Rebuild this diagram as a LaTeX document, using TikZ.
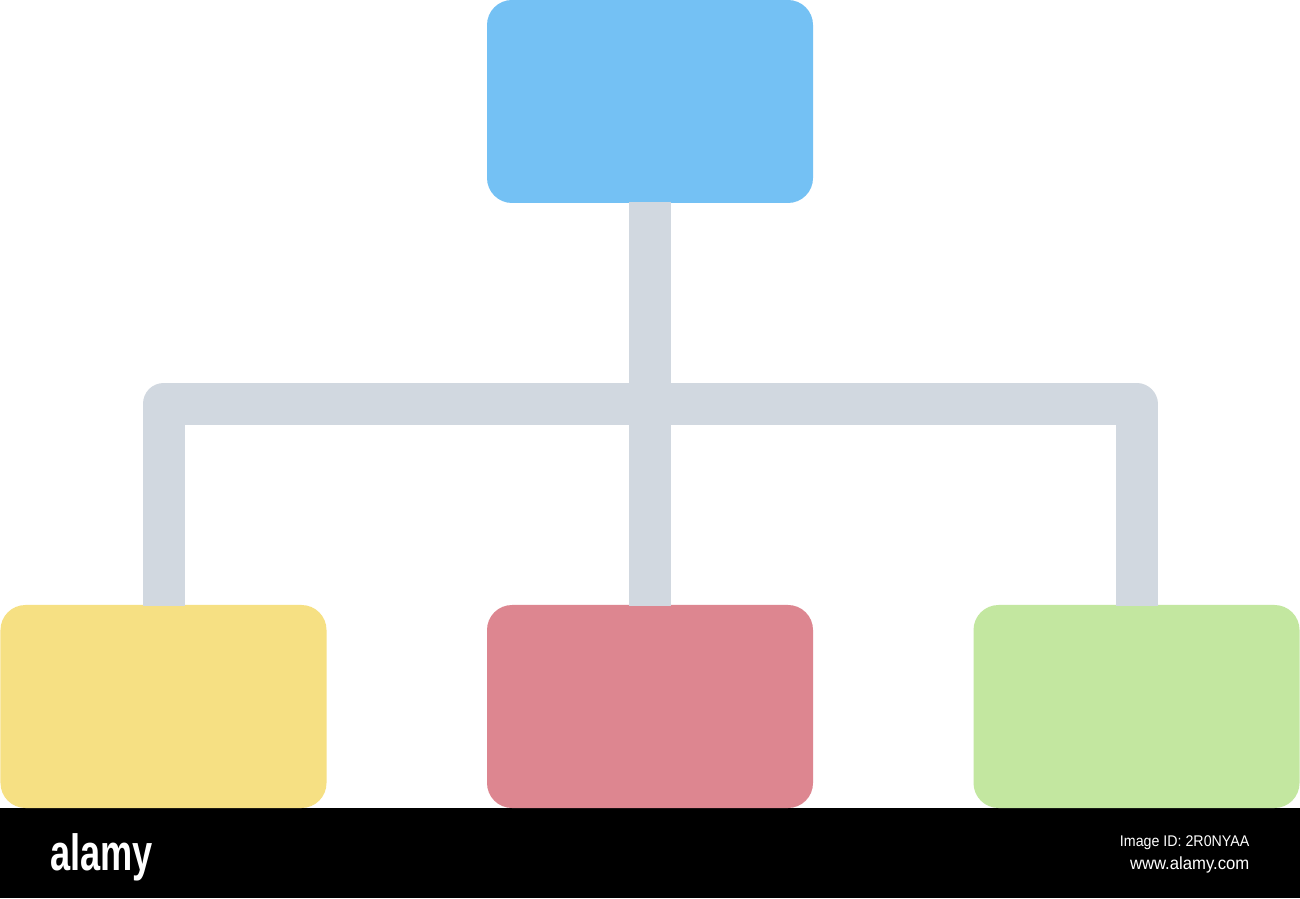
\documentclass[tikz,border=0pt]{standalone}
\usepackage{fontspec}
\setmainfont{Liberation Sans}
\usetikzlibrary{positioning}
\definecolor{topblue}{HTML}{74C1F4}
\definecolor{leftyellow}{HTML}{F6E083}
\definecolor{midred}{HTML}{DD8690}
\definecolor{rightgreen}{HTML}{C3E7A0}
\definecolor{linkgray}{HTML}{D1D8E0}

\begin{document}
\begin{tikzpicture}[b/.style={rectangle, rounded corners=.25cm, minimum width=3.26cm, minimum height=2.03cm, inner sep=0pt}, l/.style={draw=linkgray, line width=.42cm, line join=round, shorten <=-.02cm, shorten >=-.02cm}]
		\useasboundingbox (0,0) rectangle (13,8.98);
		\fill[white] (0,0) rectangle (13,8.98);
		\fill[black] (0,0) rectangle (13,0.90);

		\node[b, fill=topblue] (A) at (6.5,7.965) {};
		\node[b, fill=leftyellow] (B) at (1.635,1.915) {};
		\node[b, fill=midred] (C) at (6.5,1.915) {};
		\node[b, fill=rightgreen] (D) at (11.365,1.915) {};
		\coordinate (E) at (6.5,4.94);

		\draw[l] (A.south) -- (C.north);
		\draw[l] (B.north) |- (E) -| (D.north);

		\node[anchor=base west, text=white, font=\bfseries\fontsize{14.5}{14.5}\selectfont, xscale=.71, inner sep=0pt] (logo) at (0.50,0.28) {alamy};
		\node[anchor=base east, text=white, font=\fontsize{4.4}{4.4}\selectfont, xscale=.92, inner sep=0pt] (id) at (12.50,0.52) {Image ID: 2R0NYAA};
		\node[anchor=base east, text=white, font=\fontsize{5}{5}\selectfont, xscale=.95, inner sep=0pt] (url) at (12.50,0.29) {www.alamy.com};
	\end{tikzpicture}
\end{document}
